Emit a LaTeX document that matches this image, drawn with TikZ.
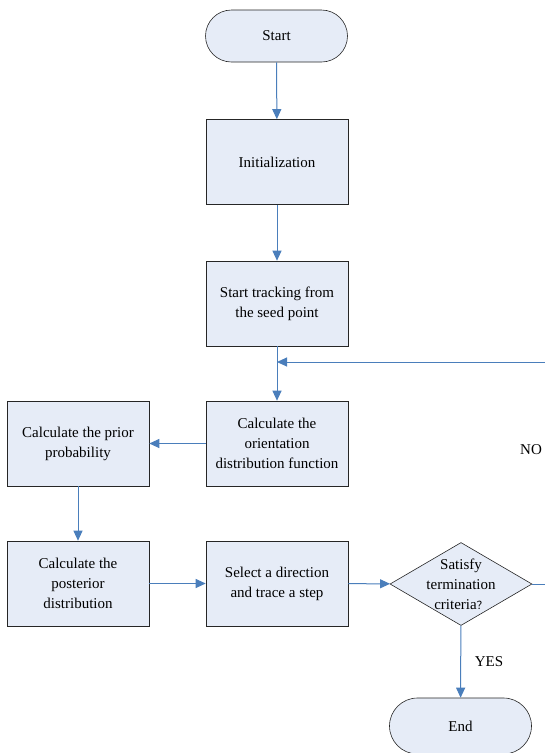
\documentclass[tikz,border=0pt]{standalone}
\usepackage{fontspec}
\setmainfont{Liberation Serif}
\newfontfamily\cjkfont{Noto Sans CJK SC}
\usetikzlibrary{shapes.geometric,arrows.meta}
\definecolor{boxfill}{RGB}{230,236,247}
\definecolor{arrowblue}{RGB}{74,126,187}
\tikzset{
  every node/.style={font=\fontsize{15}{20}\selectfont},
  procbox/.style={draw=black!85, line width=0.6pt, fill=boxfill, minimum width=142pt, minimum height=85pt, align=center, inner sep=2pt},
  termbox/.style={draw=black!85, line width=0.6pt, fill=boxfill, rounded corners=26pt, minimum width=142pt, minimum height=52pt, align=center},
  decbox/.style={draw=black!85, line width=0.6pt, fill=boxfill, diamond, aspect=1.69, minimum width=142pt, minimum height=83pt, inner sep=0pt},
  flow/.style={draw=arrowblue, line width=1pt, -{Triangle[width=9pt,length=10pt]}}
}
\begin{document}
\begin{tikzpicture}[x=1pt,y=-1pt]
\useasboundingbox (0,0) rectangle (545,753);
\node[termbox] (start) at (276.5,36) {Start};
\node[procbox] (init) at (277,162) {Initialization};
\node[procbox] (track) at (277,303.5) {Start tracking from\\the seed point};
\node[procbox] (odf) at (277,443.5) {Calculate the\\orientation\\distribution function};
\node[procbox] (prior) at (78,443.5) {Calculate the prior\\probability};
\node[procbox] (post) at (78,583.5) {Calculate the\\posterior\\distribution};
\node[procbox] (sel) at (277,583.5) {Select a direction\\and trace a step};
\node[decbox] (dec) at (461,584) {};
\node[align=center] (dectext) at (461,584) {Satisfy\\termination\\criteria{\cjkfont\fontsize{11}{20}\selectfont ？}};
\node[termbox, minimum height=56pt, rounded corners=28pt] (end) at (460.5,726) {End};
\node (no) at (531,450) {NO};
\node (yes) at (489,662) {YES};
\coordinate (merge) at (277,362);
\coordinate (loopr) at (549,584);
\coordinate (loopt) at (549,362);
\draw[flow] (start) -- (init);
\draw[flow] (init) -- (track);
\draw[flow] (track) -- (odf);
\draw[flow] (odf) -- (prior);
\draw[flow] (prior) -- (post);
\draw[flow] (post) -- (sel);
\draw[flow] (sel) -- (dec);
\draw[flow] (dec) -- (end);
\draw[flow] (dec.east) -- (loopr) -- (loopt) -- (merge);
\end{tikzpicture}
\end{document}
